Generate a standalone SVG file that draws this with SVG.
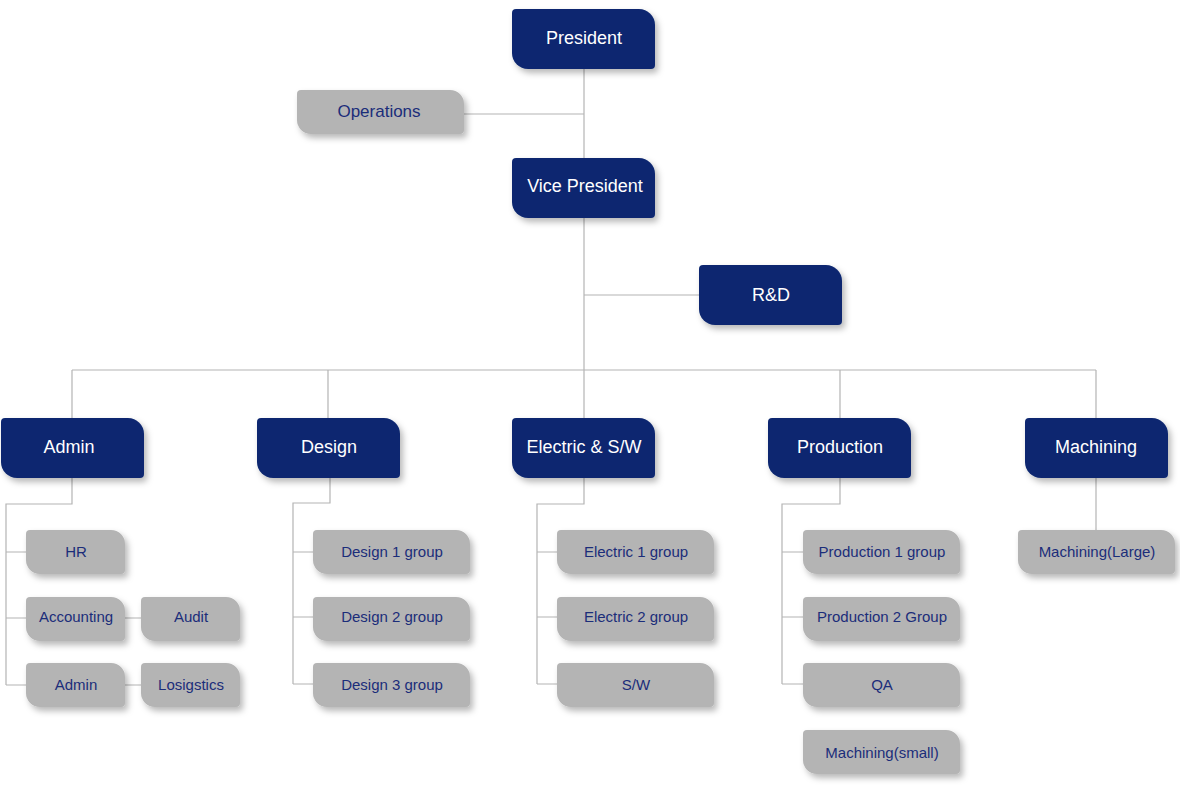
<svg xmlns="http://www.w3.org/2000/svg" xmlns:xlink="http://www.w3.org/1999/xlink" width="1180" height="787" viewBox="0 0 1180 787">
<style>
.conn{fill:none;stroke:#b4b4b4;stroke-width:1.2}
.navy{fill:#0b2870}
.gray{fill:#b4b4b4}
.nt{font-family:"Liberation Sans",Arial,sans-serif;font-size:18px;fill:#ffffff;text-anchor:middle}
.gt{font-family:"Liberation Sans",Arial,sans-serif;font-size:15px;fill:#1b2d7a;text-anchor:middle}
</style>
<defs>
<filter id="sh" x="-20%" y="-30%" width="140%" height="170%">
<feDropShadow dx="3" dy="4" stdDeviation="3" flood-color="#000" flood-opacity="0.28"/>
</filter>
<path id="nb" d="M4,0 H127 A16,16 0 0 1 143,16 V56 A4,4 0 0 1 139,60 H16 A16,16 0 0 1 0,44 V4 A4,4 0 0 1 4,0 Z"/>
<path id="gw" d="M4,0 H143 A14,14 0 0 1 157,14 V40 A4,4 0 0 1 153,44 H14 A14,14 0 0 1 0,30 V4 A4,4 0 0 1 4,0 Z"/>
<path id="gs" d="M4,0 H85 A14,14 0 0 1 99,14 V40 A4,4 0 0 1 95,44 H14 A14,14 0 0 1 0,30 V4 A4,4 0 0 1 4,0 Z"/>
<path id="go" d="M4,0 H153 A14,14 0 0 1 167,14 V40 A4,4 0 0 1 163,44 H14 A14,14 0 0 1 0,30 V4 A4,4 0 0 1 4,0 Z"/>
</defs>
<rect width="1180" height="787" fill="#ffffff"/>
<g id="connectors">
<path class="conn" d="M584,69 V158"/>
<path class="conn" d="M464,114 H584"/>
<path class="conn" d="M584,218 V418"/>
<path class="conn" d="M584,295 H699"/>
<path class="conn" d="M72,370 H1096"/>
<path class="conn" d="M72,370 V418 M328,370 V418 M840,370 V418 M1096,370 V418"/>
<path class="conn" d="M72,478 V504 H6 V685 M6,552 H26 M6,618 H26 M6,685 H26 M125,618 H141 M125,685 H141"/>
<path class="conn" d="M330,478 V503 H293 V684 M293,552 H313 M293,617 H313 M293,684 H313"/>
<path class="conn" d="M584,478 V504 H537 V684 M537,552 H557 M537,617 H557 M537,684 H557"/>
<path class="conn" d="M840,478 V504 H782 V684 M782,552 H803 M782,617 H803 M782,684 H803"/>
<path class="conn" d="M1096,478 V530"/>
</g>
<g id="president"><use href="#nb" x="512" y="9" class="navy" filter="url(#sh)"/><text class="nt" x="584" y="44">President</text></g>
<g id="operations"><use href="#go" x="297" y="90" class="gray" filter="url(#sh)"/><text class="gt" x="379" y="117" style="font-size:17px">Operations</text></g>
<g id="vice-president"><use href="#nb" x="512" y="158" class="navy" filter="url(#sh)"/><text class="nt" x="585" y="192">Vice President</text></g>
<g id="rnd"><use href="#nb" x="699" y="265" class="navy" filter="url(#sh)"/><text class="nt" x="771" y="301">R&amp;D</text></g>
<g id="admin"><use href="#nb" x="1" y="418" class="navy" filter="url(#sh)"/><text class="nt" x="69" y="453">Admin</text></g>
<g id="design"><use href="#nb" x="257" y="418" class="navy" filter="url(#sh)"/><text class="nt" x="329" y="453">Design</text></g>
<g id="electric"><use href="#nb" x="512" y="418" class="navy" filter="url(#sh)"/><text class="nt" x="584" y="453">Electric &amp; S/W</text></g>
<g id="production"><use href="#nb" x="768" y="418" class="navy" filter="url(#sh)"/><text class="nt" x="840" y="453">Production</text></g>
<g id="machining"><use href="#nb" x="1025" y="418" class="navy" filter="url(#sh)"/><text class="nt" x="1096" y="453">Machining</text></g>
<g id="hr"><use href="#gs" x="26" y="530" class="gray" filter="url(#sh)"/><text class="gt" x="76" y="557">HR</text></g>
<g id="accounting"><use href="#gs" x="26" y="597" class="gray" filter="url(#sh)"/><text class="gt" x="76" y="622">Accounting</text></g>
<g id="audit"><use href="#gs" x="141" y="597" class="gray" filter="url(#sh)"/><text class="gt" x="191" y="622">Audit</text></g>
<g id="admin-sub"><use href="#gs" x="26" y="663" class="gray" filter="url(#sh)"/><text class="gt" x="76" y="690">Admin</text></g>
<g id="logistics"><use href="#gs" x="141" y="663" class="gray" filter="url(#sh)"/><text class="gt" x="191" y="690">Losigstics</text></g>
<g id="design1"><use href="#gw" x="313" y="530" class="gray" filter="url(#sh)"/><text class="gt" x="392" y="557">Design 1 group</text></g>
<g id="design2"><use href="#gw" x="313" y="597" class="gray" filter="url(#sh)"/><text class="gt" x="392" y="622">Design 2 group</text></g>
<g id="design3"><use href="#gw" x="313" y="663" class="gray" filter="url(#sh)"/><text class="gt" x="392" y="690">Design 3 group</text></g>
<g id="electric1"><use href="#gw" x="557" y="530" class="gray" filter="url(#sh)"/><text class="gt" x="636" y="557">Electric 1 group</text></g>
<g id="electric2"><use href="#gw" x="557" y="597" class="gray" filter="url(#sh)"/><text class="gt" x="636" y="622">Electric 2 group</text></g>
<g id="sw"><use href="#gw" x="557" y="663" class="gray" filter="url(#sh)"/><text class="gt" x="636" y="690">S/W</text></g>
<g id="production1"><use href="#gw" x="803" y="530" class="gray" filter="url(#sh)"/><text class="gt" x="882" y="557">Production 1 group</text></g>
<g id="production2"><use href="#gw" x="803" y="597" class="gray" filter="url(#sh)"/><text class="gt" x="882" y="622">Production 2 Group</text></g>
<g id="qa"><use href="#gw" x="803" y="663" class="gray" filter="url(#sh)"/><text class="gt" x="882" y="690">QA</text></g>
<g id="machining-small"><use href="#gw" x="803" y="730" class="gray" filter="url(#sh)"/><text class="gt" x="882" y="758">Machining(small)</text></g>
<g id="machining-large"><use href="#gw" x="1018" y="530" class="gray" filter="url(#sh)"/><text class="gt" x="1097" y="557">Machining(Large)</text></g>
</svg>
